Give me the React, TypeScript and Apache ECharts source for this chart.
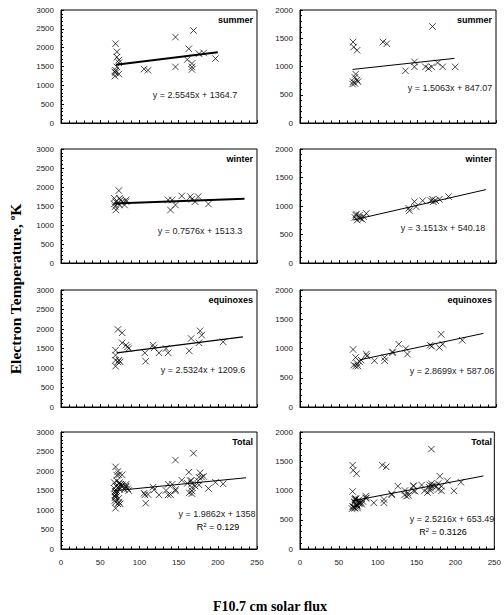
import React, { useEffect, useRef } from "react";
import * as echarts from "echarts";

// ---------- data (F10.7 flux, electron temperature K) ----------
const leftSummer: number[][] = [
  [69.6, 2105], [71.3, 1890], [71.3, 1750], [73.8, 1670], [73.8, 1600], [69.6, 1400],
  [69.6, 1330], [68.8, 1245], [73.8, 1300], [71.3, 1490], [68.8, 1360], [106, 1430],
  [111, 1400], [146, 2280], [146, 1490], [161, 1684], [163, 1970], [169, 2456],
  [167, 1580], [167, 1490], [167, 1420], [176, 1840], [182, 1860], [197, 1710],
];
const leftWinter: number[][] = [
  [73.8, 1906], [68, 1703], [74.7, 1703], [70, 1615], [76, 1659], [83, 1659],
  [81, 1527], [69, 1483], [70, 1395], [72.6, 1571], [74.7, 1527], [68, 1553],
  [78, 1615], [83, 1615], [136.7, 1659], [139.7, 1395], [141.8, 1659], [146, 1527],
  [154, 1765], [165, 1748], [167, 1677], [171, 1615], [175, 1748], [188, 1553],
];
const leftEquinox: number[][] = [
  [69.6, 1457], [69.6, 1329], [69.6, 1200], [69.6, 1046], [72.6, 1989], [74, 1200],
  [75.5, 1157], [72.6, 1157], [78, 1903], [78, 1646], [83, 1586], [85, 1543],
  [86.4, 1500], [107, 1389], [108, 1174], [117.4, 1586], [118.7, 1517], [125, 1389],
  [134, 1500], [136.7, 1389], [163.6, 1440], [166, 1757], [176, 1646], [177.4, 1954],
  [179.5, 1843], [206.8, 1671],
];
const rightSummer: number[][] = [
  [67.7, 1433], [68.5, 1345], [72.8, 1287], [71, 865], [70, 807], [67.7, 731],
  [67, 690], [70, 702], [72.8, 760], [74, 731], [105.8, 1433], [110.8, 1404],
  [134.5, 924], [146, 1082], [146, 994], [160, 994], [164, 965], [168, 994],
  [169, 1708], [175.5, 1064], [182, 994], [198, 994],
];
const rightWinter: number[][] = [
  [71, 841], [73, 753], [75.7, 800], [77, 782], [79.5, 765], [70, 800], [72, 859],
  [84.6, 870], [81, 812], [76, 841], [138.7, 959], [139.6, 918], [146, 1076],
  [148, 988], [156.5, 1094], [167, 1094], [169, 1118], [170, 1076], [173, 1094],
  [177.7, 1118], [189.5, 1165],
];
const rightEquinox: number[][] = [
  [67.7, 983], [71, 847], [68.5, 717], [71, 700], [72.8, 746], [74, 700], [76, 774],
  [78, 802], [84.6, 904], [85.4, 870], [95, 791], [108, 847], [108, 791], [118, 943],
  [118, 927], [126, 1073], [135, 1000], [137, 904], [166, 1056], [168, 1040],
  [177.7, 1017], [180, 1243], [182, 1073], [207, 1141],
];

// trendlines: slope, intercept, x-range
const slopes = [2.5545, 1.5063, 0.7576, 3.1513, 2.5324, 2.8699, 1.9862, 2.5216];
const intercepts = [1364.7, 847.07, 1513.3, 540.18, 1209.6, 587.06, 1358, 653.49];
const lineStartX = [70, 67, 68, 68, 71, 76, 68, 68];
const lineEndX = [200, 197, 234, 237, 232, 234, 236, 236];
const lineWidths = [2, 1, 2, 1, 1.3, 1, 1, 1];

const seasonLabels = ["summer", "summer", "winter", "winter", "equinoxes", "equinoxes", "Total", "Total"];
const equationLabels = [
  "y = 2.5545x + 1364.7",
  "y = 1.5063x + 847.07",
  "y = 0.7576x + 1513.3",
  "y = 3.1513x + 540.18",
  "y = 2.5324x + 1209.6",
  "y = 2.8699x + 587.06",
  "y = 1.9862x + 1358",
  "y = 2.5216x + 653.49",
];
const r2Labels = ["", "", "", "", "", "", "0.129", "0.3126"];

const yMaxLeft = 3000;
const yMaxRight = 2000;
const xMax = 250;

export default function App() {
  const ref = useRef<HTMLDivElement>(null);
  useEffect(() => {
    document.body.style.margin = "0";
    const chart = echarts.init(ref.current!, null, { renderer: "svg" });

    const panelData = [
      leftSummer, rightSummer, leftWinter, rightWinter, leftEquinox, rightEquinox,
      [...leftSummer, ...leftWinter, ...leftEquinox],
      [...rightSummer, ...rightWinter, ...rightEquinox],
    ];

    const colLeft = [61, 300];
    const colWidth = 196;
    const rowTop = [10, 149, 290, 432];
    const rowBottom = [123, 263, 407, 549];

    const grids: any[] = [];
    const xAxes: any[] = [];
    const yAxes: any[] = [];
    const series: any[] = [];
    const graphics: any[] = [];
    const font = "Liberation Sans, Arial, sans-serif";
    const cross = "path://M0,0L10,10M10,0L0,10";

    for (let i = 0; i < 8; i++) {
      const col = i % 2;
      const row = Math.floor(i / 2);
      const left = colLeft[col];
      const top = rowTop[row];
      const height = rowBottom[row] - top;
      grids.push({
        left, top, width: colWidth, height,
        show: true, borderColor: "#000", borderWidth: 1, backgroundColor: "transparent",
      });
      xAxes.push({
        type: "value", gridIndex: i, min: 0, max: xMax, interval: 50,
        axisLine: { lineStyle: { color: "#000", width: 1 } },
        axisTick: { show: true, inside: true, length: 3, lineStyle: { color: "#000" } },
        minorTick: { show: true, splitNumber: 5, length: 2.5, lineStyle: { color: "#000" } },
        splitLine: { show: false },
        axisLabel: {
          show: row === 3, fontFamily: font, fontSize: 8, color: "#222", margin: 9,
          formatter: (v: number) => String(v),
        },
      });
      const yMax = col === 0 ? yMaxLeft : yMaxRight;
      yAxes.push({
        type: "value", gridIndex: i, min: 0, max: yMax, interval: 500,
        axisLine: { show: true, lineStyle: { color: "#000", width: 1 } },
        axisTick: { show: true, inside: true, length: 3, lineStyle: { color: "#000" } },
        minorTick: { show: true, splitNumber: 5, length: 2, lineStyle: { color: "#000" } },
        splitLine: { show: false },
        axisLabel: {
          fontFamily: font, fontSize: 8, color: "#222", margin: 7,
          formatter: (v: number) => String(v),
        },
      });
      series.push({
        type: "scatter", xAxisIndex: i, yAxisIndex: i,
        data: panelData[i],
        symbol: cross, symbolSize: 6.5,
        itemStyle: { color: "rgba(0,0,0,0)", borderColor: "#000", borderWidth: 0.9 },
        emphasis: { disabled: true },
      });
      const xs = [lineStartX[i], lineEndX[i]];
      series.push({
        type: "line", xAxisIndex: i, yAxisIndex: i,
        data: xs.map((x) => [x, slopes[i] * x + intercepts[i]]),
        symbol: "none",
        lineStyle: { color: "#000", width: lineWidths[i] },
        z: 3,
      });

      // season label
      graphics.push({
        type: "text", x: left + colWidth - 4, y: top + 10,
        style: {
          text: seasonLabels[i], font: `bold 9px ${font}`, fill: "#000",
          textAlign: "right", textVerticalAlign: "middle", align: "right", verticalAlign: "middle",
        },
      });
    }

    const eqPos = [
      [195, 95], [450, 88], [200, 231], [443, 228], [203, 370], [452, 371], [217, 514], [452, 519],
    ];
    const r2Pos = [[0, 0], [0, 0], [0, 0], [0, 0], [0, 0], [0, 0], [218, 527], [443, 532]];
    for (let i = 0; i < 8; i++) {
      graphics.push({
        type: "text", x: eqPos[i][0], y: eqPos[i][1],
        style: {
          text: equationLabels[i], font: `9px ${font}`, fill: "#222",
          textAlign: "center", textVerticalAlign: "middle", align: "center", verticalAlign: "middle",
        },
      });
      if (r2Labels[i]) {
        graphics.push({
          type: "text", x: r2Pos[i][0], y: r2Pos[i][1],
          style: {
            rich: {
              n: { fontFamily: font, fontSize: 9, color: "#222" },
              s: { fontFamily: font, fontSize: 6, color: "#222", verticalAlign: "top", padding: [0, 0, 5, 0] },
            },
            text: `{n|R}{s|2}{n| = ${r2Labels[i]}}`,
            textAlign: "center", textVerticalAlign: "middle", align: "center", verticalAlign: "middle",
          },
        });
      }
    }

    // axis titles
    graphics.push({
      type: "text", x: 15, y: 289, rotation: Math.PI / 2,
      style: {
        rich: {
          t: { fontFamily: "Liberation Serif, Times New Roman, serif", fontSize: 15.5, fontWeight: "bold", color: "#000" },
          o: { fontFamily: "Liberation Serif, Times New Roman, serif", fontSize: 9, fontWeight: "bold", color: "#000", padding: [0, 0, 7, 0] },
        },
        text: "{t|Electron Temperature, }{o|o}{t|K}",
        textAlign: "center", textVerticalAlign: "middle", align: "center", verticalAlign: "middle",
      },
    });
    graphics.push({
      type: "text", x: 270, y: 599,
      style: {
        text: "F10.7 cm solar flux",
        font: "bold 14px Liberation Serif, Times New Roman, serif", fill: "#000",
        textAlign: "center", textVerticalAlign: "top", align: "center", verticalAlign: "top",
      },
    });

    chart.setOption({
      animation: false,
      backgroundColor: "#fff",
      grid: grids,
      xAxis: xAxes,
      yAxis: yAxes,
      series,
      graphic: graphics,
    });
    return () => chart.dispose();
  }, []);
  return (
    <div
      ref={ref}
      style={{ position: "fixed", left: 0, top: 0, width: 504, height: 615 }}
    />
  );
}
